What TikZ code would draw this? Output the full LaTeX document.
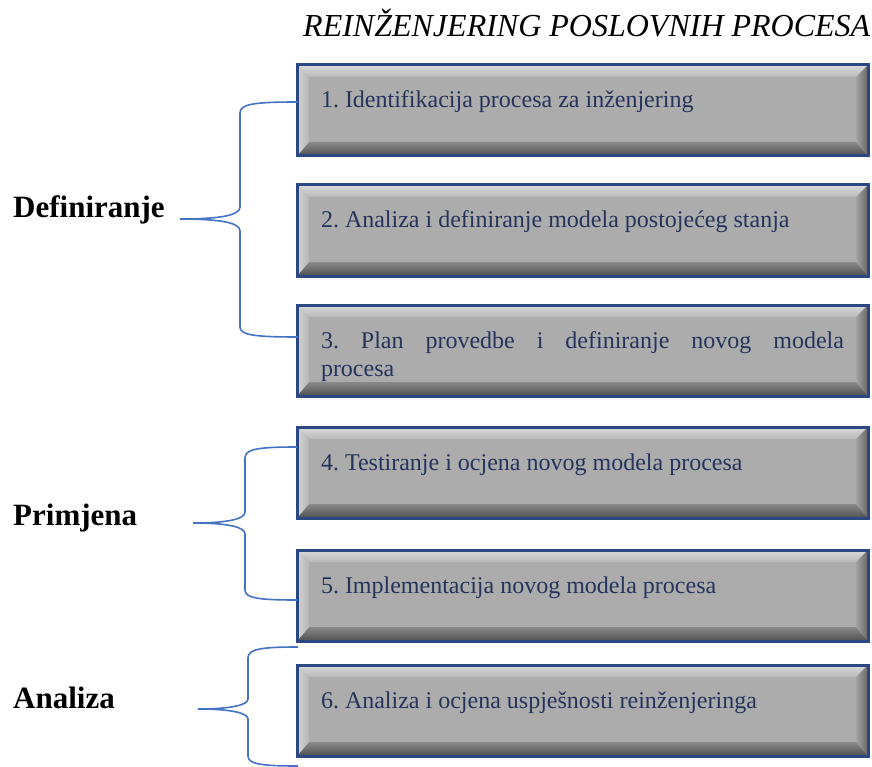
\documentclass[tikz,border=0pt]{standalone}
\usepackage{fontspec}
\setmainfont{Liberation Serif}
\frenchspacing
\usetikzlibrary{positioning}
\definecolor{okvir}{RGB}{44,72,132}
\definecolor{siva}{RGB}{172,172,172}
\definecolor{gornja}{RGB}{218,218,218}
\definecolor{donja}{RGB}{80,80,80}
\definecolor{tekst}{RGB}{38,52,92}
\definecolor{spojnica}{RGB}{68,114,196}
\tikzset{
  korak/.style={draw=okvir, line width=3pt, fill=siva, anchor=north west,
    outer sep=0pt, inner xsep=24pt, inner ysep=0pt, text width=523pt,
    align=justify, text=tekst, font=\fontsize{24}{28}\selectfont,
    text height=43pt, text depth=48pt,
    path picture={
      \path (path picture bounding box.north west) coordinate (pa)
            (path picture bounding box.north east) coordinate (pb)
            (path picture bounding box.south east) coordinate (pc)
            (path picture bounding box.south west) coordinate (pd);
      \shade[top color=gornja, bottom color=siva!85!white]
        (pa) -- (pb) -- ([xshift=-12pt,yshift=-12pt]pb)
        -- ([xshift=12pt,yshift=-12pt]pa) -- cycle;
      \shade[top color=siva!80!black, bottom color=donja]
        (pd) -- (pc) -- ([xshift=-12pt,yshift=14pt]pc)
        -- ([xshift=12pt,yshift=14pt]pd) -- cycle;
      \shade[left color=gornja!90!siva, right color=siva!90!white]
        (pa) -- ([xshift=12pt,yshift=-12pt]pa)
        -- ([xshift=12pt,yshift=14pt]pd) -- (pd) -- cycle;
      \shade[left color=siva!95!black, right color=siva!60!black]
        (pb) -- ([xshift=-12pt,yshift=-12pt]pb)
        -- ([xshift=-12pt,yshift=14pt]pc) -- (pc) -- cycle;
    }},
  faza/.style={anchor=base west, inner sep=0pt,
    font=\bfseries\fontsize{31}{36}\selectfont},
  naslov/.style={anchor=base west, inner sep=0pt,
    font=\itshape\fontsize{32}{38}\selectfont},
  spona/.style={draw=spojnica, line width=1.6pt}
}

\begin{document}
\begin{tikzpicture}[x=1pt,y=-1pt]
\useasboundingbox (0,0) rectangle (872,767);
    %title
    \node[naslov] (nas) at (303,37) {REINŽENJERING POSLOVNIH PROCESA};
    %steps
    \node[korak] (k1) at (297,65) {1. Identifikacija procesa za inženjering};
    \node[korak] (k2) at (297,185) {2. Analiza i definiranje modela postojećeg stanja};
    \node[korak] (k3) at (297,305) {3. Plan provedbe i definiranje novog modela\linebreak procesa};
    \node[korak] (k4) at (297,427) {4. Testiranje i ocjena novog modela procesa};
    \node[korak] (k5) at (297,550) {5. Implementacija novog modela procesa};
    \node[korak] (k6) at (297,665) {6. Analiza i ocjena uspješnosti reinženjeringa};
    %phases
    \node[faza] (def) at (13,218) {Definiranje};
    \node[faza] (prim) at (13,525) {Primjena};
    \node[faza] (anal) at (13,708) {Analiza};
    %brace ends
    \coordinate (d0) at (180,219);
    \coordinate (d1) at (298,102);
    \coordinate (d2) at (298,337);
    \coordinate (p0) at (193,523);
    \coordinate (p1) at (297,447);
    \coordinate (p2) at (297,600);
    \coordinate (a0) at (198,709);
    \coordinate (a1) at (298,647);
    \coordinate (a2) at (298,766);
    %braces
    \draw[spona] (d1) .. controls (254,102) and (240,104) .. (240,113) -- (240,207)
        .. controls (240,215) and (222,219) .. (d0)
        .. controls (222,219) and (240,223) .. (240,231) -- (240,327)
        .. controls (240,335) and (254,337) .. (d2);
    \draw[spona] (p1) .. controls (258,447) and (245,449) .. (245,458) -- (245,512)
        .. controls (245,519) and (228,523) .. (p0)
        .. controls (228,523) and (245,527) .. (245,534) -- (245,590)
        .. controls (245,598) and (258,600) .. (p2);
    \draw[spona] (a1) .. controls (261,647) and (248,649) .. (248,658) -- (248,699)
        .. controls (248,705) and (231,709) .. (a0)
        .. controls (231,709) and (248,713) .. (248,719) -- (248,756)
        .. controls (248,764) and (261,766) .. (a2);
\end{tikzpicture}
\end{document}
